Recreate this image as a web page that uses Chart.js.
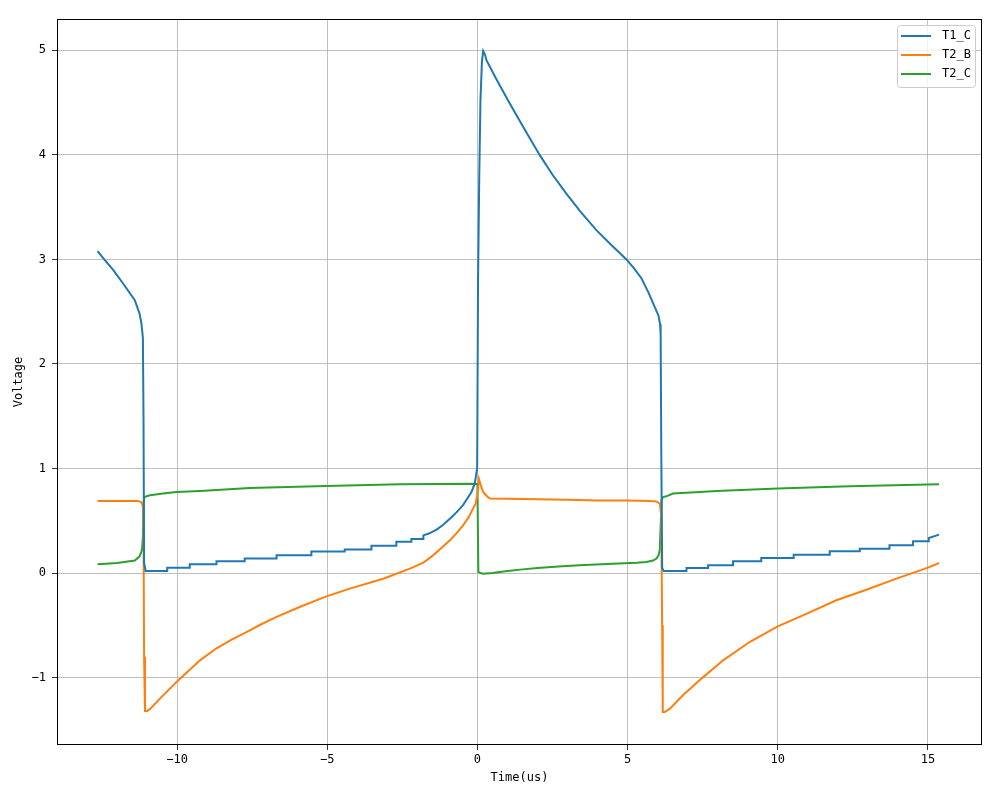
<!DOCTYPE html>
<html>
<head>
  <meta charset="UTF-8">
  <title>Voltage vs Time</title>
  <script src="https://cdn.jsdelivr.net/npm/chart.js"></script>
  <style>
    body { margin: 0; background: #ffffff; }
    #wrap { width: 1000px; height: 800px; }
  </style>
</head>
<body>
<div id="wrap"><canvas id="voltChart" width="1000" height="800"></canvas></div>

<script>
  // series
  const t1cTime = [-12.65, -12.40, -12.13, -11.80, -11.41, -11.25, -11.19, -11.14, -11.12, -11.10, -11.05,
    -10.33, -10.33, -9.58, -9.58, -8.69, -8.69, -7.75, -7.75, -6.69, -6.69, -5.53, -5.53, -4.42, -4.42,
    -3.53, -3.53, -2.70, -2.70, -2.20, -2.20, -1.81, -1.80, -1.60, -1.36, -1.15, -0.92, -0.70, -0.48,
    -0.30, -0.20, -0.09, -0.01, 0.02, 0.06, 0.10, 0.15, 0.19, 0.25, 0.30, 0.60, 1.02, 1.52, 2.07, 2.50,
    2.96, 3.45, 3.96, 4.45, 4.96, 5.20, 5.46, 5.70, 5.85, 5.97, 6.03, 6.08, 6.10, 6.12, 6.15, 6.20,
    6.96, 6.96, 7.68, 7.68, 8.51, 8.51, 9.45, 9.45, 10.53, 10.53, 11.73, 11.73, 12.73, 12.73,
    13.72, 13.72, 14.50, 14.50, 15.03, 15.03, 15.37];
  const t1cVolt = [3.08, 2.99, 2.90, 2.77, 2.61, 2.48, 2.39, 2.25, 1.50, 0.10, 0.02,
    0.02, 0.05, 0.05, 0.083, 0.083, 0.112, 0.112, 0.14, 0.14, 0.17, 0.17, 0.205, 0.205, 0.226,
    0.226, 0.26, 0.26, 0.30, 0.30, 0.325, 0.325, 0.36, 0.38, 0.415, 0.46, 0.52, 0.58, 0.65,
    0.73, 0.775, 0.855, 1.00, 2.80, 3.80, 4.52, 4.90, 4.995, 4.96, 4.906, 4.74, 4.52, 4.27, 4.00, 3.81,
    3.63, 3.45, 3.28, 3.14, 3.00, 2.92, 2.82, 2.68, 2.58, 2.50, 2.46, 2.38, 2.29, 1.20, 0.05, 0.02,
    0.02, 0.048, 0.048, 0.074, 0.074, 0.112, 0.112, 0.143, 0.143, 0.176, 0.176, 0.208, 0.208, 0.233,
    0.233, 0.265, 0.265, 0.303, 0.303, 0.335, 0.367];

  const t2bTime = [-12.65, -11.30, -11.20, -11.15, -11.12, -11.10, -11.07, -11.00, -10.90, -10.50, -10.02,
    -9.60, -9.24, -8.69, -8.20, -7.69, -7.20, -6.69, -5.92, -5.03, -4.25, -3.14, -2.25, -1.80, -1.48,
    -1.20, -0.92, -0.70, -0.48, -0.30, -0.15, -0.06, 0.00, 0.05, 0.10, 0.19, 0.30, 0.41, 1.00, 2.00,
    3.00, 4.00, 5.00, 5.74, 5.95, 6.07, 6.12, 6.15, 6.17, 6.23, 6.40, 6.84, 7.46, 8.18, 9.06, 10.00,
    10.95, 11.95, 12.95, 13.95, 15.00, 15.37];
  const t2bVolt = [0.69, 0.69, 0.68, 0.65, 0.55, -0.80, -1.32, -1.32, -1.30, -1.18, -1.043,
    -0.93, -0.835, -0.72, -0.64, -0.565, -0.49, -0.42, -0.325, -0.223, -0.149, -0.054, 0.042, 0.10, 0.169,
    0.24, 0.313, 0.38, 0.456, 0.53, 0.616, 0.664, 0.75, 0.90, 0.85, 0.775, 0.74, 0.712, 0.71, 0.705,
    0.70, 0.695, 0.693, 0.689, 0.685, 0.664, 0.55, -0.50, -1.33, -1.33, -1.30, -1.17, -1.01, -0.835, -0.66, -0.51,
    -0.39, -0.26, -0.16, -0.054, 0.052, 0.096];

  const t2cTime = [-12.65, -12.00, -11.41, -11.25, -11.17, -11.14, -11.12, -11.10, -11.02, -10.90, -10.47,
    -10.02, -9.24, -7.58, -5.03, -2.59, -0.09, 0.00, 0.03, 0.10, 0.19, 0.50, 1.00, 1.50, 2.00,
    2.70, 3.40, 4.50, 5.30, 5.62, 5.85, 5.96, 6.03, 6.07, 6.10, 6.13, 6.18, 6.29, 6.51, 7.40, 7.96,
    10.00, 12.39, 15.37];
  const t2cVolt = [0.085, 0.095, 0.12, 0.16, 0.22, 0.35, 0.65, 0.72, 0.735, 0.744, 0.76,
    0.775, 0.785, 0.813, 0.833, 0.849, 0.855, 0.85, 0.01, 0.00, -0.006, 0.00, 0.02, 0.035, 0.048,
    0.062, 0.074, 0.088, 0.098, 0.105, 0.12, 0.138, 0.17, 0.217, 0.45, 0.70, 0.727, 0.734, 0.76, 0.775, 0.785,
    0.808, 0.83, 0.849];

  const seriesNames = ['T1_C', 'T2_B', 'T2_C'];
  const xTickValues = [-10, -5, 0, 5, 10, 15];
  const yTickValues = [-1, 0, 1, 2, 3, 4, 5];

  const colors = ['#1f77b4', '#ff7f0e', '#2ca02c'];
  const fontFamily = '"DejaVu Sans Mono", monospace';

  function toPoints(xs, ys) {
    return xs.map((x, i) => ({ x: x, y: ys[i] }));
  }

  // frame around the plot area + legend box inside the top right corner
  const framePlugin = {
    id: 'frame',
    afterDraw(chart) {
      const ctx = chart.ctx;
      const a = chart.chartArea;
      ctx.save();
      ctx.strokeStyle = '#000';
      ctx.lineWidth = 1;
      ctx.strokeRect(a.left + 0.5, a.top + 0.5, a.right - a.left - 1, a.bottom - a.top - 1);

      // legend
      const boxW = 78, boxH = 62;
      const bx = a.right - 7 - boxW, by = a.top + 6;
      ctx.fillStyle = 'rgba(255,255,255,0.8)';
      ctx.strokeStyle = '#cccccc';
      ctx.beginPath();
      ctx.roundRect(bx + 0.5, by + 0.5, boxW, boxH, 3);
      ctx.fill();
      ctx.stroke();
      ctx.font = '12px ' + fontFamily;
      ctx.textBaseline = 'middle';
      ctx.textAlign = 'left';
      chart.data.datasets.forEach((ds, i) => {
        const ly = by + 11 + i * 19;
        ctx.strokeStyle = ds.borderColor;
        ctx.lineWidth = 2;
        ctx.beginPath();
        ctx.moveTo(bx + 4, ly);
        ctx.lineTo(bx + 34, ly);
        ctx.stroke();
        ctx.fillStyle = '#000';
        ctx.fillText(ds.label, bx + 45, ly);
      });
      ctx.restore();
    }
  };

  const fmtTick = v => String(v).replace('-', '\u2212');

  new Chart(document.getElementById('voltChart').getContext('2d'), {
    type: 'scatter',
    data: {
      datasets: [
        { label: seriesNames[0], data: toPoints(t1cTime, t1cVolt) },
        { label: seriesNames[1], data: toPoints(t2bTime, t2bVolt) },
        { label: seriesNames[2], data: toPoints(t2cTime, t2cVolt) }
      ].map((ds, i) => Object.assign(ds, {
        showLine: true,
        borderColor: colors[i],
        backgroundColor: colors[i],
        borderWidth: 2,
        pointRadius: 0,
        pointHoverRadius: 0,
        tension: 0,
        fill: false
      }))
    },
    options: {
      responsive: false,
      animation: false,
      devicePixelRatio: 1,
      layout: { padding: { top: 19, right: 18, left: 0, bottom: 0 } },
      plugins: {
        legend: { display: false },
        tooltip: { enabled: false }
      },
      scales: {
        x: {
          type: 'linear',
          min: -14.0,
          max: 16.8,
          afterBuildTicks: axis => { axis.ticks = xTickValues.map(v => ({ value: v })); },
          afterFit: axis => { axis.height = 55; },
          ticks: {
            color: '#000',
            padding: 3,
            maxRotation: 0,
            font: { family: fontFamily, size: 12 },
            callback: v => fmtTick(v)
          },
          grid: { color: '#b0b0b0', lineWidth: 0.8, tickColor: '#000', tickLength: 5 },
          border: { display: false },
          title: {
            display: true,
            text: 'Time(us)',
            color: '#000',
            font: { family: fontFamily, size: 12 },
            padding: { top: 0, bottom: 15 }
          }
        },
        y: {
          type: 'linear',
          min: -1.645,
          max: 5.30,
          afterBuildTicks: axis => { axis.ticks = yTickValues.map(v => ({ value: v })); },
          afterFit: axis => { axis.width = 57; },
          ticks: {
            color: '#000',
            padding: 6,
            font: { family: fontFamily, size: 12 },
            callback: v => fmtTick(v)
          },
          grid: { color: '#b0b0b0', lineWidth: 0.8, tickColor: '#000', tickLength: 5 },
          border: { display: false },
          title: {
            display: true,
            text: 'Voltage',
            color: '#000',
            font: { family: fontFamily, size: 12 },
            padding: { top: 12, bottom: 0 }
          }
        }
      }
    },
    plugins: [framePlugin]
  });
</script>
</body>
</html>
